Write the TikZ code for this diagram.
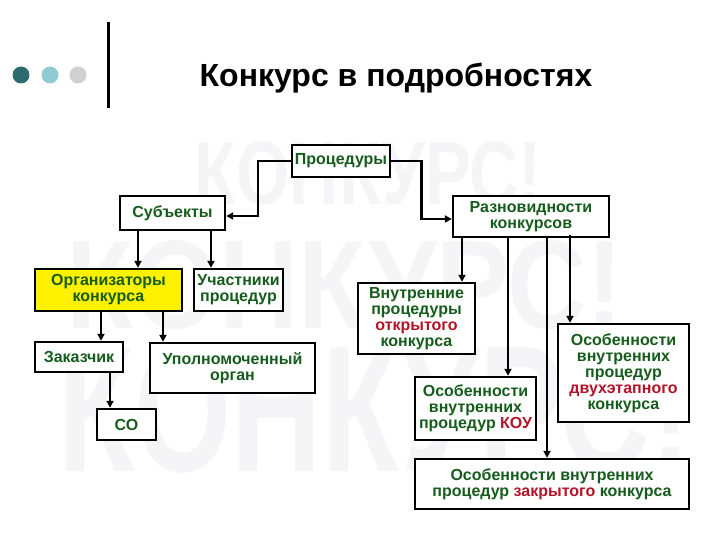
\documentclass[tikz,border=0pt]{standalone}
\usepackage{fontspec}
\setmainfont{Liberation Sans}
\usepackage{xcolor}
\usetikzlibrary{arrows.meta}
\definecolor{labelgreen}{RGB}{22,92,28}
\definecolor{keyred}{RGB}{178,20,40}
\definecolor{dotdark}{RGB}{46,107,110}
\definecolor{dotlight}{RGB}{143,203,208}
\definecolor{dotgrey}{RGB}{208,208,208}
\definecolor{markgrey}{RGB}{245,245,248}
\newcommand{\hl}[1]{\textcolor{keyred}{#1}}

\begin{document}
\begin{tikzpicture}[x=1pt, y=-1pt,
		box/.style={draw, line width=2.4pt, fill=white, align=center, inner sep=0pt, text=labelgreen,
			font=\fontsize{16}{16}\selectfont\bfseries},
		flow/.style={-{Triangle[length=7pt, width=7pt]}, line width=2.6pt},
		bgword/.style={text=markgrey, font=\fontsize{90}{90}\selectfont\bfseries, inner sep=0pt}]
		\useasboundingbox (0,0) rectangle (720,540);
		% background lettering
		\node[bgword, xscale=0.76] (wm1) at (368,174) {КОНКУРС!};
		\node[bgword, xscale=1.22, yscale=1.4] (wm2) at (345,285) {КОНКУРС!};
		\node[bgword, xscale=1.39, yscale=2.0] (wm3) at (375,410) {КОНКУРС!};

		% header
		\fill[dotdark] (21,75) circle (8.5);
		\fill[dotlight] (50,75) circle (8.5);
		\fill[dotgrey] (78,75) circle (8.5);
		\draw[line width=3pt] (108,22) -- (108,108);
		\node[font=\fontsize{32}{34}\selectfont\bfseries] (title) at (396,78) {Конкурс в подробностях};

		% boxes
		\node[box, minimum width=98, minimum height=32] (proc) at (341,161) {Процедуры};
		\node[box, minimum width=105, minimum height=34] (subj) at (172.5,213) {Субъекты};
		\node[box, minimum width=156, minimum height=41] (kinds) at (531,216.5) {Разновидности\\конкурсов};
		\node[box, fill=yellow, minimum width=147, minimum height=42] (org) at (108.5,290) {Организаторы\\конкурса};
		\node[box, minimum width=89, minimum height=42] (part) at (238.5,290) {Участники\\процедур};
		\node[box, minimum width=88, minimum height=30] (cust) at (79,357) {Заказчик};
		\node[box, minimum width=165, minimum height=50] (auth) at (232.5,368) {Уполномоченный\\орган};
		\node[box, minimum width=59, minimum height=31] (so) at (126.5,424.5) {СО};
		\node[box, minimum width=117, minimum height=71] (open) at (416.5,318.5) {Внутренние\\процедуры\\\hl{открытого}\\конкурса};
		\node[box, minimum width=121, minimum height=63] (kou) at (475.5,408.5) {Особенности\\внутренних\\процедур \hl{КОУ}};
		\node[box, minimum width=131, minimum height=98] (two) at (623.5,373) {Особенности\\внутренних\\процедур\\\hl{двухэтапного}\\конкурса};
		\node[box, minimum width=274, minimum height=50] (closed) at (552,484) {Особенности внутренних\\процедур \hl{закрытого} конкурса};

		% connectors
		\draw[flow] (proc.west) -- ++(-33,0) |- ([yshift=-3]subj.east);
		\draw[flow] (proc.east) -- ++(30,0) |- ([yshift=-2.5]kinds.west);
		\draw[flow] ([xshift=-34.5]subj.south) -- ([xshift=-34.5]subj.south |- org.north);
		\draw[flow] ([xshift=38.5]subj.south) -- ([xshift=38.5]subj.south |- part.north);
		\draw[flow] ([xshift=-7.5]org.south) -- ([xshift=-7.5]org.south |- cust.north);
		\draw[flow] ([xshift=54.5]org.south) -- ([xshift=54.5]org.south |- auth.north);
		\draw[flow] ([xshift=31]cust.south) -- ([xshift=31]cust.south |- so.north);
		\draw[flow] ([xshift=-69]kinds.south) -- ([xshift=-69]kinds.south |- open.north);
		\draw[flow] ([xshift=-23]kinds.south) -- ([xshift=-23]kinds.south |- kou.north);
		\draw[flow] ([xshift=16]kinds.south) -- ([xshift=16]kinds.south |- closed.north);
		\draw[flow] ([xshift=39,yshift=3]kinds.south) -- ([xshift=39]kinds.south |- two.north);
	\end{tikzpicture}
\end{document}
